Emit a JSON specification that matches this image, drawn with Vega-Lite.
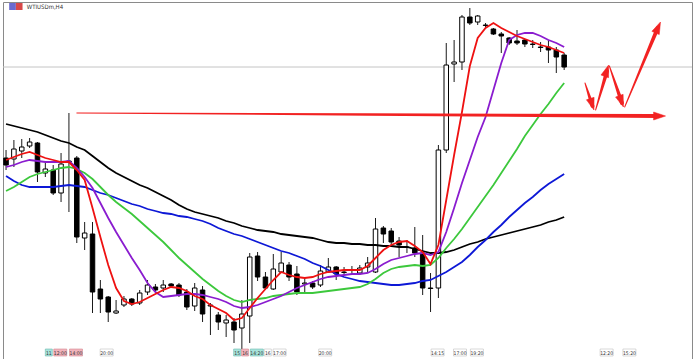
{
"$schema": "https://vega.github.io/schema/vega-lite/v6.json",
"width": 695, "height": 359,
"autosize": {"type": "fit", "contains": "padding"},
"padding": {"left": 2, "top": 2, "right": 2, "bottom": 0},
"background": "white",
"config": {"view": {"stroke": "#8a8a8a", "strokeWidth": 1}},
"datasets": {
"candles": [
{"i":0,"o":242,"h":250,"l":230,"c":235},{"i":1,"o":241,"h":260,"l":233,"c":251},{"i":2,"o":249,"h":261,"l":242,"c":253},{"i":3,"o":254,"h":262,"l":252,"c":258},
{"i":4,"o":257,"h":258,"l":218,"c":228},{"i":5,"o":227,"h":238,"l":223,"c":231},{"i":6,"o":230,"h":235,"l":205,"c":207},{"i":7,"o":207,"h":247,"l":198,"c":236},
{"i":8,"o":238,"h":287,"l":188,"c":239},{"i":9,"o":242,"h":244,"l":157,"c":163},{"i":10,"o":162,"h":178,"l":150,"c":167},{"i":11,"o":166,"h":178,"l":87,"c":108},
{"i":12,"o":111,"h":120,"l":87,"c":101},{"i":13,"o":103,"h":104,"l":78,"c":88},{"i":14,"o":87,"h":100,"l":86,"c":89},{"i":15,"o":95,"h":104,"l":93,"c":101},
{"i":16,"o":101,"h":102,"l":94,"c":96},{"i":17,"o":97,"h":110,"l":95,"c":107},{"i":18,"o":108,"h":120,"l":105,"c":115},{"i":19,"o":113,"h":116,"l":108,"c":110},
{"i":20,"o":112,"h":120,"l":108,"c":115},{"i":21,"o":116,"h":117,"l":112,"c":114},{"i":22,"o":115,"h":117,"l":103,"c":105},{"i":23,"o":108,"h":111,"l":90,"c":93},
{"i":24,"o":94,"h":117,"l":89,"c":112},{"i":25,"o":110,"h":114,"l":78,"c":86},{"i":26,"o":94,"h":97,"l":65,"c":95},{"i":27,"o":85,"h":88,"l":70,"c":78},
{"i":28,"o":77,"h":85,"l":63,"c":80},{"i":29,"o":78,"h":82,"l":57,"c":70},{"i":30,"o":72,"h":100,"l":51,"c":86},{"i":31,"o":84,"h":147,"l":57,"c":143},
{"i":32,"o":144,"h":148,"l":119,"c":123},{"i":33,"o":123,"h":128,"l":110,"c":112},{"i":34,"o":111,"h":146,"l":110,"c":131},{"i":35,"o":128,"h":148,"l":127,"c":137},
{"i":36,"o":135,"h":138,"l":119,"c":123},{"i":37,"o":126,"h":134,"l":105,"c":108},{"i":38,"o":116,"h":122,"l":107,"c":117},{"i":39,"o":117,"h":119,"l":111,"c":113},
{"i":40,"o":115,"h":135,"l":113,"c":129},{"i":41,"o":128,"h":142,"l":127,"c":133},{"i":42,"o":133,"h":134,"l":120,"c":126},{"i":43,"o":128,"h":133,"l":124,"c":127.5},
{"i":44,"o":130,"h":134,"l":126,"c":129.5},{"i":45,"o":127,"h":135,"l":125,"c":132},{"i":46,"o":133,"h":143,"l":127,"c":137},{"i":47,"o":128,"h":182,"l":127,"c":171},
{"i":48,"o":172,"h":174,"l":157,"c":166},{"i":49,"o":169,"h":172,"l":155,"c":158},{"i":50,"o":159,"h":163,"l":143,"c":155},{"i":51,"o":153,"h":160,"l":147,"c":152.5},
{"i":52,"o":152,"h":173,"l":143,"c":147},{"i":53,"o":147,"h":165,"l":105,"c":112},{"i":54,"o":112,"h":127,"l":88,"c":111.5},{"i":55,"o":112,"h":255,"l":102,"c":250},
{"i":56,"o":250,"h":357,"l":247,"c":335},{"i":57,"o":336,"h":360,"l":318,"c":338},{"i":58,"o":338,"h":385,"l":330,"c":383},{"i":59,"o":383,"h":392,"l":375,"c":377},
{"i":60,"o":378,"h":385,"l":375,"c":384},{"i":61,"o":375,"h":377,"l":372,"c":374.5},{"i":62,"o":371,"h":372,"l":365,"c":366},{"i":63,"o":366,"h":368,"l":347,"c":364},
{"i":64,"o":362,"h":363,"l":355,"c":357},{"i":65,"o":359,"h":370,"l":355,"c":357},{"i":66,"o":360,"h":361,"l":353,"c":356},{"i":67,"o":356,"h":360,"l":352,"c":355.5},
{"i":68,"o":353,"h":358,"l":348,"c":352.5},{"i":69,"o":353,"h":360,"l":337,"c":350},{"i":70,"o":350,"h":353,"l":327,"c":343},{"i":71,"o":345,"h":347,"l":330,"c":333}
],
"ma": [
{"i":0,"r":240,"pu":233,"g":209,"b":224,"k":276},{"i":1,"r":243,"pu":235,"g":213,"b":219,"k":274},{"i":2,"r":246,"pu":238,"g":218,"b":215,"k":272},{"i":3,"r":248,"pu":240,"g":223,"b":213,"k":270},
{"i":4,"r":245,"pu":239,"g":226,"b":213,"k":268},{"i":5,"r":242,"pu":238,"g":228,"b":213,"k":265},{"i":6,"r":240,"pu":238,"g":230,"b":213,"k":262},{"i":7,"r":238,"pu":238,"g":232,"b":214,"k":259},
{"i":8,"r":238,"pu":239,"g":233,"b":215,"k":257},{"i":9,"r":230,"pu":232,"g":231,"b":214,"k":253},{"i":10,"r":220,"pu":223,"g":227,"b":213,"k":250},{"i":11,"r":192,"pu":212,"g":221,"b":210,"k":244},
{"i":12,"r":163,"pu":197,"g":213,"b":207,"k":238},{"i":13,"r":135,"pu":182,"g":205,"b":205,"k":232},{"i":14,"r":112,"pu":168,"g":198,"b":202,"k":227},{"i":15,"r":99,"pu":155,"g":192,"b":199,"k":223},
{"i":16,"r":96,"pu":142,"g":186,"b":196,"k":219},{"i":17,"r":98,"pu":130,"g":179,"b":194,"k":215},{"i":18,"r":102,"pu":117,"g":172,"b":191,"k":212},{"i":19,"r":106,"pu":108,"g":165,"b":189,"k":208},
{"i":20,"r":110,"pu":103,"g":158,"b":187,"k":204},{"i":21,"r":113,"pu":104,"g":150,"b":186,"k":200},{"i":22,"r":112,"pu":105,"g":142,"b":184,"k":195},{"i":23,"r":109,"pu":106,"g":135,"b":183,"k":191},
{"i":24,"r":104,"pu":106,"g":128,"b":181,"k":188},{"i":25,"r":101,"pu":105,"g":121,"b":179,"k":186},{"i":26,"r":95,"pu":103,"g":115,"b":176,"k":184},{"i":27,"r":91,"pu":101,"g":109,"b":172,"k":182},
{"i":28,"r":87,"pu":98,"g":104,"b":169,"k":179},{"i":29,"r":80,"pu":94,"g":100,"b":166,"k":177},{"i":30,"r":82,"pu":92,"g":98,"b":164,"k":174},{"i":31,"r":92,"pu":93,"g":100,"b":161,"k":172},
{"i":32,"r":102,"pu":95,"g":101,"b":158,"k":170},{"i":33,"r":111,"pu":98,"g":102,"b":155,"k":169},{"i":34,"r":120,"pu":101,"g":104,"b":152,"k":168},{"i":35,"r":128,"pu":104,"g":105,"b":149,"k":166},
{"i":36,"r":125,"pu":108,"g":106,"b":147,"k":165},{"i":37,"r":123,"pu":112,"g":107,"b":144,"k":164},{"i":38,"r":122,"pu":115,"g":107,"b":141,"k":163},{"i":39,"r":123,"pu":118,"g":107,"b":137,"k":162},
{"i":40,"r":126,"pu":121,"g":108,"b":134,"k":160},{"i":41,"r":128,"pu":123,"g":109,"b":130,"k":158},{"i":42,"r":129,"pu":124,"g":110,"b":126,"k":157},{"i":43,"r":130,"pu":125,"g":111,"b":123,"k":157},
{"i":44,"r":130,"pu":126,"g":112,"b":121,"k":156},{"i":45,"r":130,"pu":126,"g":113,"b":119,"k":156},{"i":46,"r":134,"pu":127,"g":116,"b":118,"k":155},{"i":47,"r":142,"pu":131,"g":121,"b":117,"k":155},
{"i":48,"r":150,"pu":136,"g":127,"b":116,"k":154},{"i":49,"r":155,"pu":140,"g":131,"b":115,"k":154},{"i":50,"r":158,"pu":142,"g":133,"b":115,"k":153},{"i":51,"r":159,"pu":144,"g":134,"b":116,"k":153},
{"i":52,"r":154,"pu":146,"g":135,"b":117,"k":151},{"i":53,"r":148,"pu":147,"g":134,"b":119,"k":149},{"i":54,"r":136,"pu":145,"g":135,"b":120,"k":147},{"i":55,"r":155,"pu":148,"g":142,"b":124,"k":147},
{"i":56,"r":200,"pu":168,"g":152,"b":128,"k":148},{"i":57,"r":245,"pu":192,"g":161,"b":133,"k":150},{"i":58,"r":288,"pu":217,"g":171,"b":138,"k":153},{"i":59,"r":334,"pu":240,"g":182,"b":145,"k":156},
{"i":60,"r":362,"pu":263,"g":193,"b":153,"k":158},{"i":61,"r":372,"pu":283,"g":204,"b":160,"k":161},{"i":62,"r":377,"pu":310,"g":215,"b":168,"k":163},{"i":63,"r":372,"pu":337,"g":227,"b":175,"k":165},
{"i":64,"r":368,"pu":360,"g":239,"b":183,"k":167},{"i":65,"r":364,"pu":365,"g":251,"b":190,"k":169},{"i":66,"r":361,"pu":367,"g":264,"b":197,"k":171},{"i":67,"r":358,"pu":367,"g":275,"b":203,"k":173},
{"i":68,"r":355,"pu":364,"g":286,"b":210,"k":175},{"i":69,"r":353,"pu":360,"g":296,"b":216,"k":178},{"i":70,"r":350,"pu":357,"g":307,"b":221,"k":180},{"i":71,"r":347,"pu":353,"g":317,"b":226,"k":183}
],
"arrows": [
{"seg":"h","k":0,"i":9,"p":287},{"seg":"h","k":0.45,"i":46,"p":285.5},{"seg":"h","k":1,"i":82.9,"p":284},
{"seg":"w1","k":0,"i":73.65,"p":317},{"seg":"w1","k":1,"i":74.6,"p":294},
{"seg":"w2","k":0,"i":75.0,"p":290},{"seg":"w2","k":1,"i":76.45,"p":329},
{"seg":"w3","k":0,"i":76.75,"p":334},{"seg":"w3","k":1,"i":78.35,"p":297},
{"seg":"w4","k":0,"i":78.7,"p":293},{"seg":"w4","k":1,"i":82.9,"p":372}
],
"heads": [
{"i":83.9,"p":284,"a":90},{"i":74.79,"p":290,"a":162},{"i":76.66,"p":335,"a":19},{"i":78.54,"p":293,"a":160},{"i":83.25,"p":378,"a":24}
],
"labels": [
{"i":5.44,"t":"11","kind":"day"},{"i":6.9,"t":"12:00","kind":"hl"},{"i":8.9,"t":"14:00","kind":"hl"},{"i":12.8,"t":"20:00","kind":"plain"},
{"i":29.4,"t":"15","kind":"day"},{"i":30.4,"t":"16","kind":"hl"},{"i":31.9,"t":"14:20","kind":"day"},{"i":33.3,"t":"16","kind":"plain"},{"i":34.8,"t":"17:00","kind":"plain"},{"i":40.6,"t":"20:00","kind":"plain"},
{"i":54.9,"t":"14:15","kind":"plain"},{"i":57.75,"t":"17:00","kind":"plain"},{"i":59.9,"t":"19:20","kind":"plain"},{"i":76.4,"t":"12:20","kind":"plain"},{"i":79.3,"t":"15:20","kind":"plain"}
]
},
"layer": [
{"data": {"values": [{}]}, "mark": {"type": "rule", "color": "#c4c4c4", "strokeWidth": 1},
 "encoding": {"y": {"datum": 333, "type": "quantitative", "scale": {"domain": [41, 398], "nice": false, "zero": false}, "axis": null}}},
{"data": {"name": "candles"}, "mark": {"type": "rule", "color": "#1a1a1a", "strokeWidth": 1},
 "encoding": {
  "x": {"field": "i", "type": "quantitative", "scale": {"domain": [0.25, 86.625], "nice": false, "zero": false}, "axis": null},
  "y": {"field": "l", "type": "quantitative", "scale": {"domain": [41, 398], "nice": false, "zero": false}, "axis": null},
  "y2": {"field": "h"}}},
{"data": {"name": "candles"}, "mark": {"type": "bar", "width": 4.5, "stroke": "#000000", "strokeWidth": 1},
 "encoding": {
  "x": {"field": "i", "type": "quantitative", "scale": {"domain": [0.25, 86.625], "nice": false, "zero": false}, "axis": null},
  "y": {"field": "o", "type": "quantitative", "scale": {"domain": [41, 398], "nice": false, "zero": false}, "axis": null},
  "y2": {"field": "c"},
  "fill": {"condition": {"test": "datum.c >= datum.o", "value": "#ffffff"}, "value": "#000000"}}},
{"data": {"name": "ma"}, "transform": [{"fold": ["k", "b", "g", "pu", "r"], "as": ["ma", "v"]}],
 "mark": {"type": "line", "strokeWidth": 1.8},
 "encoding": {
  "x": {"field": "i", "type": "quantitative", "scale": {"domain": [0.25, 86.625], "nice": false, "zero": false}, "axis": null},
  "y": {"field": "v", "type": "quantitative", "scale": {"domain": [41, 398], "nice": false, "zero": false}, "axis": null},
  "color": {"field": "ma", "type": "nominal", "scale": {"domain": ["k", "b", "g", "pu", "r"], "range": ["#000000", "#0d18d6", "#3cc83c", "#8a1ccf", "#ee1111"]}, "legend": null}}},
{"data": {"name": "arrows"}, "mark": {"type": "trail", "color": "#f22222"},
 "encoding": {
  "x": {"field": "i", "type": "quantitative", "scale": {"domain": [0.25, 86.625], "nice": false, "zero": false}, "axis": null},
  "y": {"field": "p", "type": "quantitative", "scale": {"domain": [41, 398], "nice": false, "zero": false}, "axis": null},
  "size": {"field": "k", "type": "quantitative", "scale": {"domain": [0, 1], "range": [1, 4]}, "legend": null},
  "detail": {"field": "seg", "type": "nominal"},
  "order": {"field": "k", "type": "quantitative"}}},
{"data": {"name": "heads"}, "mark": {"type": "point", "shape": "M0,0L0.8,2.4L-0.8,2.4Z", "filled": true, "fill": "#f22222", "stroke": "#f22222", "strokeWidth": 0.5, "opacity": 1, "size": 100},
 "encoding": {
  "x": {"field": "i", "type": "quantitative", "scale": {"domain": [0.25, 86.625], "nice": false, "zero": false}, "axis": null},
  "y": {"field": "p", "type": "quantitative", "scale": {"domain": [41, 398], "nice": false, "zero": false}, "axis": null},
  "angle": {"field": "a", "type": "quantitative", "scale": null}}},
{"data": {"name": "labels"}, "transform": [{"filter": "length(datum.t) < 3"}], "mark": {"type": "bar", "width": 7, "strokeWidth": 0.6},
 "encoding": {
  "x": {"field": "i", "type": "quantitative", "scale": {"domain": [0.25, 86.625], "nice": false, "zero": false}, "axis": null},
  "y": {"datum": 44, "type": "quantitative", "scale": {"domain": [41, 398], "nice": false, "zero": false}, "axis": null},
  "y2": {"datum": 51},
  "fill": {"field": "kind", "type": "nominal", "scale": {"domain": ["day", "hl", "plain"], "range": ["#a8e4dc", "#f2b4bc", "#ffffff"]}, "legend": null},
  "stroke": {"field": "kind", "type": "nominal", "scale": {"domain": ["day", "hl", "plain"], "range": ["#6cb8ae", "#d48890", "#c0c0c0"]}, "legend": null}}},
{"data": {"name": "labels"}, "transform": [{"filter": "length(datum.t) >= 3"}], "mark": {"type": "bar", "width": 13, "strokeWidth": 0.6},
 "encoding": {
  "x": {"field": "i", "type": "quantitative", "scale": {"domain": [0.25, 86.625], "nice": false, "zero": false}, "axis": null},
  "y": {"datum": 44, "type": "quantitative", "scale": {"domain": [41, 398], "nice": false, "zero": false}, "axis": null},
  "y2": {"datum": 51},
  "fill": {"field": "kind", "type": "nominal", "scale": {"domain": ["day", "hl", "plain"], "range": ["#a8e4dc", "#f2b4bc", "#ffffff"]}, "legend": null},
  "stroke": {"field": "kind", "type": "nominal", "scale": {"domain": ["day", "hl", "plain"], "range": ["#6cb8ae", "#d48890", "#c0c0c0"]}, "legend": null}}},
{"data": {"name": "labels"}, "mark": {"type": "text", "fontSize": 5, "font": "DejaVu Sans Condensed", "color": "#333333", "baseline": "middle", "align": "center"},
 "encoding": {
  "x": {"field": "i", "type": "quantitative", "scale": {"domain": [0.25, 86.625], "nice": false, "zero": false}, "axis": null},
  "y": {"datum": 47.5, "type": "quantitative", "scale": {"domain": [41, 398], "nice": false, "zero": false}, "axis": null},
  "text": {"field": "t"}}},
{"data": {"values": [{"t": "WTIUSDm,H4"}]}, "mark": {"type": "text", "fontSize": 6, "font": "DejaVu Sans Condensed", "color": "#333333", "baseline": "middle", "align": "left"},
 "encoding": {
  "x": {"datum": 2.65, "type": "quantitative", "scale": {"domain": [0.25, 86.625], "nice": false, "zero": false}, "axis": null},
  "y": {"datum": 393.5, "type": "quantitative", "scale": {"domain": [41, 398], "nice": false, "zero": false}, "axis": null},
  "text": {"field": "t"}}},
{"data": {"values": [{"a": 0.4, "b": 1.25, "c": "#6a6ad0"}, {"a": 1.25, "b": 2.1, "c": "#d84848"}]}, "mark": {"type": "rect"},
 "encoding": {
  "x": {"field": "a", "type": "quantitative", "scale": {"domain": [0.25, 86.625], "nice": false, "zero": false}, "axis": null},
  "x2": {"field": "b"},
  "y": {"datum": 390, "type": "quantitative", "scale": {"domain": [41, 398], "nice": false, "zero": false}, "axis": null},
  "y2": {"datum": 397},
  "color": {"field": "c", "type": "nominal", "scale": null}}}
]
}
